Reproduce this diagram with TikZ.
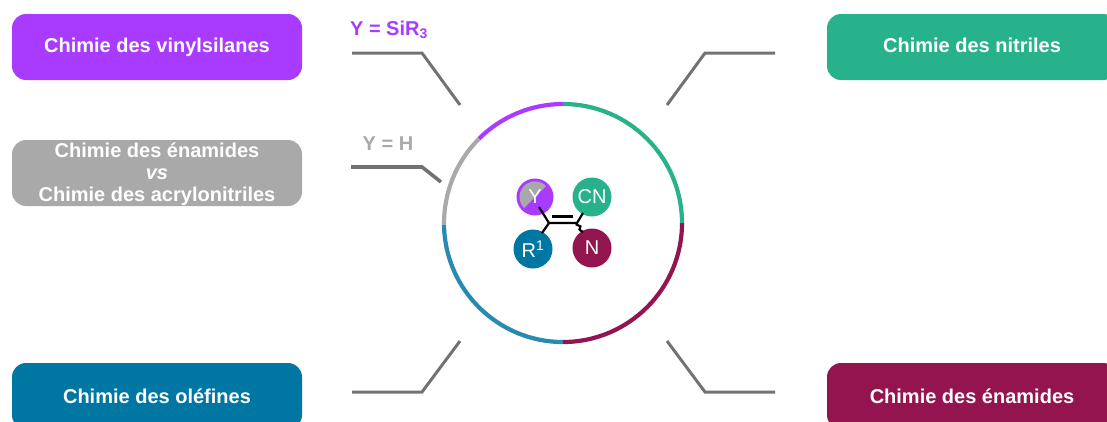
\documentclass[tikz,border=0pt]{standalone}
\usepackage{fontspec}
\setmainfont{Liberation Sans}
\definecolor{vinylc}{HTML}{A93AFF}
\definecolor{enamc}{HTML}{A9A9A9}
\definecolor{olefc}{HTML}{0076A3}
\definecolor{nitc}{HTML}{27B28B}
\definecolor{enac}{HTML}{93144F}
\definecolor{linkc}{HTML}{757171}
\tikzset{
  chembox/.style={rounded corners=14pt,minimum width=290pt,minimum height=66pt,inner sep=0pt,text=white,align=center,font=\fontsize{20}{22}\selectfont\bfseries},
  oneline/.style={text height=15pt,text depth=5pt},
  lowline/.style={text height=18pt,text depth=4pt},
  atom/.style={circle,minimum size=39pt,inner sep=0pt,text=white,font=\fontsize{20}{24}\selectfont},
  link/.style={linkc,line width=3pt},
  ring/.style={line width=4.2pt},
  bond/.style={black,line width=2.2pt}
}
\begin{document}
\begin{tikzpicture}[x=1pt,y=-1pt]
\useasboundingbox (0,0) rectangle (1107,421);
% boxes
\node[chembox,oneline,fill=vinylc] (vinyl) at (157,47) {Chimie des vinylsilanes};
\node[chembox,fill=enamc] (enam) at (157,173) {\rule{0pt}{17pt}Chimie des énamides\\\textit{vs}\\Chimie des acrylonitriles};
\node[chembox,lowline,fill=olefc] (olef) at (157,396) {Chimie des oléfines};
\node[chembox,oneline,fill=nitc] (nitr) at (972,47) {Chimie des nitriles};
\node[chembox,lowline,fill=enac] (enac) at (972,396) {Chimie des énamides};
% labels
\node[text=vinylc,font=\fontsize{20}{22}\selectfont\bfseries] (ysi) at (389,30) {Y = SiR\textsubscript{3}};
\node[text=enamc,font=\fontsize{20}{22}\selectfont\bfseries] (yh) at (388,144) {Y = H};
% ring
\draw[ring,vinylc] (563,104) arc (-90:-135:119);
\draw[ring,enamc] (478.9,138.9) arc (-135:-181:119);
\draw[ring,olefc!85!white] (444,225.1) arc (-181:-270:119);
\draw[ring,enac] (563,342) arc (-270:-360:119);
\draw[ring,nitc] (682,223) arc (0:-90:119);
% links
\draw[link] (352,53) -- (422,53) -- (460,105);
\draw[link,line width=3.6pt] (351,167) -- (422,167) -- (441,182);
\draw[link] (352,392) -- (422,392) -- (460,341);
\draw[link] (775,53) -- (705,53) -- (667,105);
\draw[link] (775,392) -- (705,392) -- (667,341);
% molecule
\node[atom,fill=nitc] (cn) at (592,197) {CN};
\node[atom,fill=olefc] (rone) at (533,249) {R\textsuperscript{1}};
\node[atom,fill=enac] (nn) at (592,248) {N};
\fill[vinylc] (535,197) circle (18.5);
\fill[enamc] (546,186) arc (-45:-225:15.5) -- cycle;
\node[atom,minimum size=37pt] (yy) at (535,197) {Y};
\coordinate (cl) at (549,223);
\coordinate (cr) at (577,223);
\draw[bond] (539,207) -- (cl) -- (cr);
\draw[bond] (cl) -- (542,233);
\draw[bond] (552,216.5) -- (573,216.5);
\draw[bond] (cr) -- (583,213);
\draw[bond] (cr) .. controls (574,226) and (583,225) .. (580,228) .. controls (578,230) and (582,231) .. (583,232);
\end{tikzpicture}
\end{document}
